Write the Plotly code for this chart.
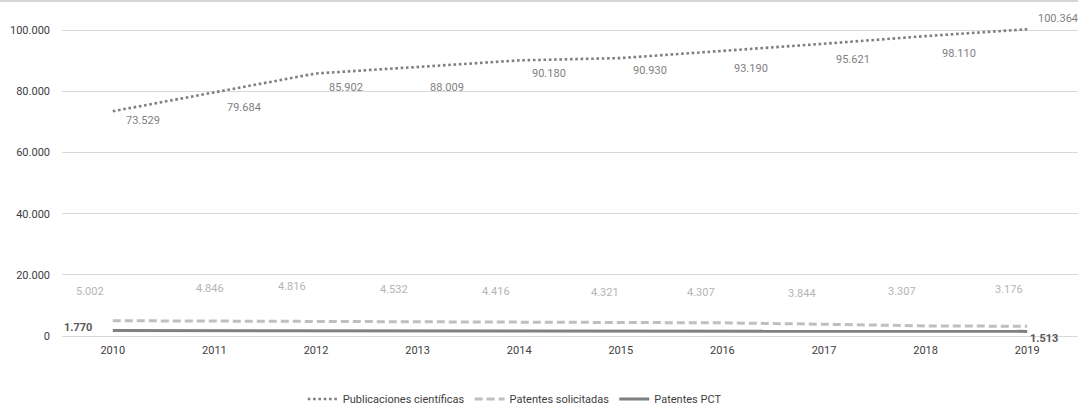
import plotly.graph_objects as go

years = ["2010", "2011", "2012", "2013", "2014", "2015", "2016", "2017", "2018", "2019"]
publicaciones = [73529, 79684, 85902, 88009, 90180, 90930, 93190, 95621, 98110, 100364]
solicitadas = [5002, 4846, 4816, 4532, 4416, 4321, 4307, 3844, 3307, 3176]
pct = [1770, 1740, 1720, 1700, 1680, 1650, 1620, 1590, 1550, 1513]
pct_labeled = [0, 9]  # indices of PCT points that carry a label

y_ticks = [0, 20000, 40000, 60000, 80000, 100000]
y_tick_text = ["0", "20.000", "40.000", "60.000", "80.000", "100.000"]


def fmt(v):
    return f"{v:,}".replace(",", ".")


# label nudges in pixels (right, up)
pub_dx = [30, 30, 30, 29, 30, 29, 29, 29, 33, 31]
pub_dy = [-9, -15, -14, -21, -13, -12, -17, -16, -17, 11]
sol_dx = [-23, -4, -24, -24, -23, -16, -21, -22, -24, -18]
sol_dy = [29, 33, 35, 33, 31, 30, 30, 31, 34, 37]
pct_dx = {0: -35, 9: 17}
pct_dy = {0: 3, 9: -7}

FONT = "Roboto, 'Liberation Sans', sans-serif"

fig = go.Figure()
fig.add_trace(go.Scatter(
    x=years, y=publicaciones, mode="lines", name="Publicaciones científicas",
    line=dict(color="#7f7f7f", width=2.6, dash="2.6px,2.7px"),
))
fig.add_trace(go.Scatter(
    x=years, y=solicitadas, mode="lines", name="Patentes solicitadas",
    line=dict(color="#bfbfbf", width=3, dash="8px,4px"),
))
fig.add_trace(go.Scatter(
    x=years, y=pct, mode="lines", name="Patentes PCT",
    line=dict(color="#808080", width=3),
))

# annotations on a category axis are positioned by category index
annotations = []
for i in range(len(years)):
    annotations.append(dict(
        x=i, y=publicaciones[i], text=fmt(publicaciones[i]), showarrow=False,
        xshift=pub_dx[i], yshift=pub_dy[i],
        font=dict(family=FONT, size=11, color="#7f7f7f"),
    ))
    annotations.append(dict(
        x=i, y=solicitadas[i], text=fmt(solicitadas[i]), showarrow=False,
        xshift=sol_dx[i], yshift=sol_dy[i],
        font=dict(family=FONT, size=11, color="#b4b4b4"),
    ))
for i in pct_labeled:
    annotations.append(dict(
        x=i, y=pct[i], text="<b>" + fmt(pct[i]) + "</b>", showarrow=False,
        xshift=pct_dx[i], yshift=pct_dy[i],
        font=dict(family=FONT, size=11, color="#595959"),
    ))

fig.update_layout(
    width=1078, height=408,
    margin=dict(l=62, r=0, t=1, b=72, autoexpand=False),
    paper_bgcolor="white", plot_bgcolor="white",
    font=dict(family=FONT, size=11, color="#404040"),
    showlegend=True,
    legend=dict(
        orientation="h", x=0.237, xanchor="left", y=-0.188, yanchor="middle",
        font=dict(family=FONT, size=11, color="#404040"),
        itemwidth=30, tracegroupgap=0,
    ),
    annotations=annotations,
    shapes=[dict(
        type="line", xref="paper", yref="paper", x0=-0.07, x1=1, y0=1.0, y1=1.0,
        line=dict(color="#c8c8c8", width=1.5),
    )],
)
fig.update_xaxes(
    type="category", range=[-0.5, 9.5], showgrid=False, showline=False,
    zeroline=False, ticks="", ticklabelstandoff=6, automargin=False,
    tickfont=dict(family=FONT, size=11, color="#404040"),
)
fig.update_yaxes(
    range=[0, 109600], tickvals=y_ticks, ticktext=y_tick_text,
    showgrid=True, gridcolor="#d9d9d9", gridwidth=1,
    zeroline=True, zerolinecolor="#d9d9d9", zerolinewidth=1,
    showline=False, ticks="", ticklabelstandoff=11, automargin=False,
    tickfont=dict(family=FONT, size=11, color="#404040"),
)

fig.write_html("out.html")
